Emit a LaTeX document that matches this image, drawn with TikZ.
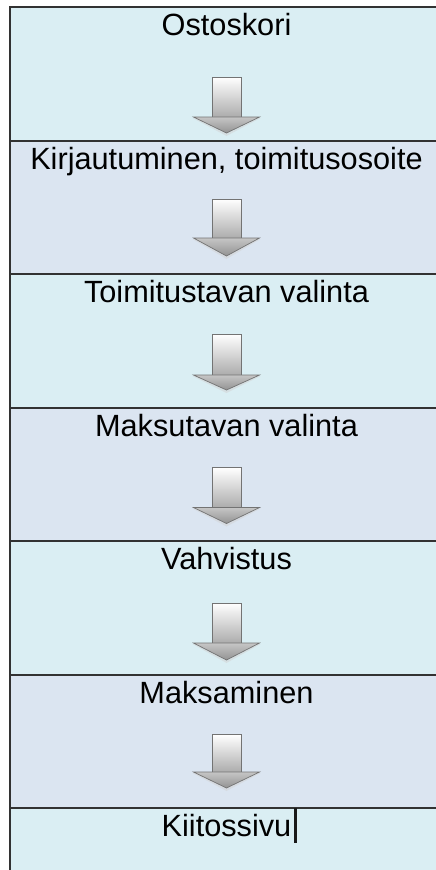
\documentclass[tikz,border=0pt]{standalone}
\usepackage{fontspec}
\setmainfont{Liberation Sans}
\definecolor{bandA}{RGB}{218,238,243}
\definecolor{bandB}{RGB}{219,229,241}
\definecolor{rule}{RGB}{50,50,50}
\newcommand\blockarr[4]{%
  \fill[gray!35, opacity=0.5] (#1-34,#3+1) -- (#1+34,#3+1) -- (#1,#4+3) -- cycle;
  \shade[top color=white, bottom color=gray!65, draw=gray!90!black, line width=1pt]
    (#1-14.5,#2) rectangle (#1+14.5,#3);
  \shade[top color=gray!45, bottom color=gray!85, draw=gray!90!black, line width=0.7pt]
    (#1-33,#3) -- (#1+33,#3) -- (#1,#4) -- cycle;
}
\begin{document}
\begin{tikzpicture}[x=1pt,y=-1pt,
  lbl/.style={inner sep=0pt, anchor=base, font=\fontsize{30.7}{36}\selectfont, text=black},
  sep/.style={draw=rule, line width=2pt}]
\useasboundingbox (0,0) rectangle (436,870);
\begin{scope}
\clip (0,0) rectangle (436,870);
\fill[white] (0,0) rectangle (436,870);
\foreach \k in {0,2,4} {\fill[bandA] (10,7+133.5*\k) rectangle (450,7+133.5*\k+133.5);}
\foreach \k in {1,3,5} {\fill[bandB] (10,7+133.5*\k) rectangle (450,7+133.5*\k+133.5);}
\fill[bandA] (10,808) rectangle (450,880);
\foreach \k in {0,...,6} {\draw[sep] (10,7+133.5*\k) -- (450,7+133.5*\k);}
\draw[sep] (10,6) -- (10,880);
\end{scope}
\node[lbl] (t0) at (226.5,35.7) {Ostoskori};
\node[lbl] (t1) at (226.5,169.2) {Kirjautuminen, toimitusosoite};
\node[lbl] (t2) at (226.5,302.7) {Toimitustavan valinta};
\node[lbl] (t3) at (226.5,436.2) {Maksutavan valinta};
\node[lbl] (t4) at (226.5,569.7) {Vahvistus};
\node[lbl] (t5) at (226.5,703.2) {Maksaminen};
\node[lbl] (t6) at (226.5,836.7) {Kiitossivu};
\draw[black!90, line width=2.2pt] (t6.base east) ++(4,6) -- ++(0,-35);
\blockarr{226.5}{77}{117}{133}
\blockarr{226.5}{199}{238}{256}
\blockarr{226.5}{334}{375}{390}
\blockarr{226.5}{467.5}{507.5}{523.5}
\blockarr{226.5}{603}{643}{660}
\blockarr{226.5}{734.5}{772}{788}
\end{tikzpicture}
\end{document}
